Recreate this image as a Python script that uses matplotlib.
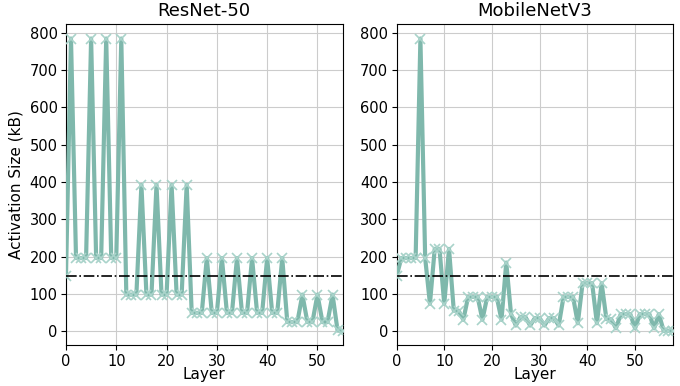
import matplotlib
matplotlib.use("Agg")
import matplotlib.pyplot as plt

# Activation sizes (kB) per layer
resnet50 = [147, 784, 196, 196, 196, 784, 196, 196, 784, 196, 196, 784,
            98, 98, 98, 392, 98, 98, 392, 98, 98, 392, 98, 98, 392,
            49, 49, 49, 196, 49, 49, 196, 49, 49, 196, 49, 49, 196, 49, 49, 196, 49, 49, 196,
            24.5, 24.5, 24.5, 98, 24.5, 24.5, 98, 24.5, 24.5, 98,
            2, 1]

mobilenetv3 = [147, 196, 196, 196, 196,
               784, 196, 73.5,
               220.5, 220.5, 73.5,
               220.5, 55.1, 55.1, 30.6,
               91.9, 91.9, 91.9, 30.6,
               91.9, 91.9, 91.9, 30.6,
               183.75, 45.9, 15.3,
               38.3, 38.3, 15.3,
               35.2, 35.2, 15.3,
               35.2, 35.2, 15.3,
               91.9, 91.9, 91.9, 21.4,
               128.6, 128.6, 128.6, 21.4,
               128.6, 32.2, 32.2, 7.66,
               45.9, 45.9, 45.9, 7.66,
               45.9, 45.9, 45.9, 7.66,
               45.9, 0.94, 1.25, 0.98]

threshold = 147
titles = ["ResNet-50", "MobileNetV3"]
series = [resnet50, mobilenetv3]

color = "#7fb8ac"

fig, axes = plt.subplots(1, 2, figsize=(6.8, 3.86), dpi=100)
fig.subplots_adjust(left=0.097, right=0.99, top=0.938, bottom=0.105, wspace=0.195)

for ax, title, vals in zip(axes, titles, series):
    x = list(range(len(vals)))
    ax.plot(x, vals, color=color, linewidth=3, marker="x", markersize=7,
            markeredgecolor="#a9d3ca", markeredgewidth=1.2, zorder=3)
    ax.axhline(threshold, color="black", linestyle="-.", linewidth=1.2, zorder=4)
    ax.set_xlim(0, len(vals) - 1)
    ax.set_title(title, fontsize=13)
    ax.set_xlabel("Layer", fontsize=11, labelpad=-1)
    ax.set_xticks([0, 10, 20, 30, 40, 50])
    ax.set_yticks([0, 100, 200, 300, 400, 500, 600, 700, 800])
    ax.tick_params(labelsize=10.5, pad=2.5)
    ax.grid(True, color="#cccccc", linewidth=0.8)
    ax.set_axisbelow(True)

axes[0].set_ylabel("Activation Size (kB)", fontsize=11)

fig.savefig("out.png", dpi=100)
